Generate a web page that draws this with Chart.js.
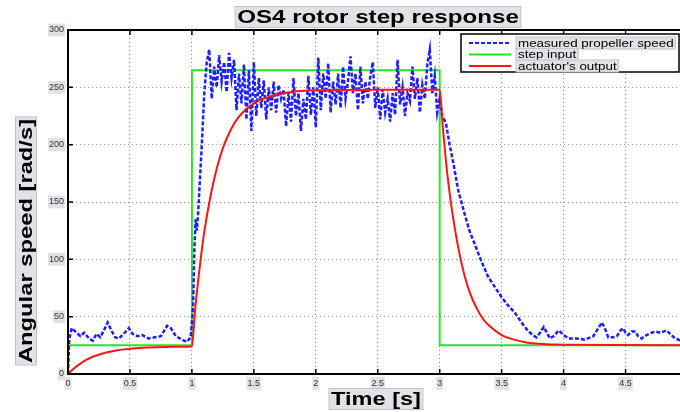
<!DOCTYPE html>
<html>
<head>
<meta charset="utf-8">
<script src="https://cdn.jsdelivr.net/npm/chart.js@4.4.0/dist/chart.umd.min.js"></script>
<style>
  html, body { margin: 0; padding: 0; background: #fff; overflow: hidden; }
  #wrap { width: 694px; height: 412px; }
</style>
</head>
<body>
<div id="wrap"><canvas id="chart" width="694" height="412"></canvas></div>
<script>
'use strict';

// step input (reference)
const stepT = [0, 1, 1, 3, 3, 5];
const stepV = [25, 25, 265, 265, 25, 25];

// actuator's output
const actT = [0, 0.05, 0.1, 0.15, 0.2, 0.3, 0.4, 0.5, 0.6, 0.7, 0.8, 0.9, 1.0,
  1.025, 1.05, 1.075, 1.1, 1.15, 1.2, 1.25, 1.3, 1.35, 1.4, 1.5, 1.6, 1.7, 1.8, 2.0, 2.5, 3.0,
  3.025, 3.05, 3.075, 3.1, 3.15, 3.2, 3.25, 3.3, 3.35, 3.4, 3.5, 3.6, 3.7, 3.8, 4.0, 5.0];
const actV = [0, 5, 9, 12.5, 15, 18.5, 20.8, 22, 22.8, 23.3, 23.6, 23.8, 24,
  55, 81, 104, 124, 155, 179, 197, 210, 220, 227, 236, 241, 244, 246, 247.4, 248, 248,
  215, 186, 162, 142, 110, 86, 69, 57, 48, 42, 34, 30, 27.5, 26.3, 25.4, 25];

// measured propeller speed
const measT = [0, 0.01, 0.03, 0.06, 0.1, 0.13, 0.17, 0.2, 0.23, 0.26, 0.29, 0.32, 0.35, 0.38,
  0.41, 0.45, 0.49, 0.52, 0.56, 0.6, 0.65, 0.7, 0.75, 0.8, 0.83, 0.87, 0.92, 0.96, 0.99,
  1.0, 1.01, 1.02, 1.03, 1.04, 1.05, 1.06, 1.08,
  1.10, 1.12, 1.14, 1.16, 1.18, 1.20, 1.22, 1.24, 1.26, 1.28, 1.30, 1.32, 1.34, 1.36, 1.38,
  1.40, 1.42, 1.44, 1.46, 1.48, 1.50, 1.52, 1.54, 1.56, 1.58, 1.60, 1.62, 1.64, 1.66, 1.68,
  1.70, 1.72, 1.74, 1.76, 1.78, 1.80, 1.82, 1.84, 1.86, 1.88, 1.90, 1.92, 1.94, 1.96, 1.98,
  2.00, 2.02, 2.04, 2.06, 2.08, 2.10, 2.12, 2.14, 2.16, 2.18, 2.20, 2.22, 2.24, 2.26, 2.28,
  2.30, 2.32, 2.34, 2.36, 2.38, 2.40, 2.42, 2.44, 2.46, 2.48, 2.50, 2.52, 2.54, 2.56, 2.58,
  2.60, 2.62, 2.64, 2.66, 2.68, 2.70, 2.72, 2.74, 2.76, 2.78, 2.80, 2.82, 2.84, 2.86, 2.88,
  2.90, 2.92, 2.94, 2.96, 2.98, 3.00, 3.02, 3.05,
  3.08, 3.11, 3.15, 3.2, 3.24, 3.28, 3.33, 3.39, 3.45, 3.5, 3.55, 3.61, 3.66, 3.71, 3.75,
  3.78, 3.81, 3.84, 3.87, 3.89, 3.92, 3.96, 4.0, 4.04, 4.1, 4.17, 4.24, 4.28, 4.31, 4.34,
  4.36, 4.4, 4.43, 4.46, 4.48, 4.5, 4.52, 4.55, 4.58, 4.6, 4.63, 4.67, 4.71, 4.74, 4.78,
  4.83, 4.87, 4.9, 4.95, 5.0];
const measV = [0, 30, 40, 37, 33, 36, 31, 29, 35, 32, 38, 45, 38, 32,
  31, 35, 40, 35, 33, 34, 31, 32, 33, 42, 40, 33, 30, 28, 32,
  45, 60, 110, 135, 125, 140, 160, 200,
  245, 272, 283, 240, 268, 250, 278, 255, 272, 246, 280, 258, 274, 230, 262,
  236, 270, 222, 265, 212, 272, 225, 258, 232, 256, 222, 250, 230, 255, 228,
  252, 240, 248, 216, 245, 220, 258, 225, 245, 212, 240, 222, 260, 226, 250,
  215, 276, 230, 262, 240, 271, 228, 255, 235, 262, 232, 268, 240, 255, 277,
  245, 262, 230, 268, 236, 255, 240, 260, 272, 232, 250, 222, 248, 228, 240,
  220, 245, 226, 274, 235, 250, 225, 245, 238, 268, 240, 258, 228, 252, 240,
  270, 283, 245, 260, 228, 240, 225, 219,
  200, 184, 160, 140, 125, 114, 100, 85, 75, 67, 60, 53, 45, 38, 34,
  32, 36, 41, 35, 31, 33, 38, 34, 31, 31, 30, 33, 40, 45, 38,
  32, 32, 33, 38, 40, 36, 34, 37, 37, 33, 31, 34, 36, 37, 36,
  38, 34, 31, 29, 28];

const xTicks = [0, 0.5, 1, 1.5, 2, 2.5, 3, 3.5, 4, 4.5, 5];
const yTicks = [0, 50, 100, 150, 200, 250, 300];

const pts = (ts, vs) => ts.map((t, i) => ({ x: t, y: vs[i] }));

const FONT = "'Liberation Sans', Arial, sans-serif";
const BOXFILL = '#e2e2e6';
const BOXLINE = '#c4c4c8';

// text on a grey box, stretched horizontally by sx
function boxedText(ctx, text, x, y, size, bold, sx, align) {
  ctx.font = (bold ? 'bold ' : '') + size + 'px ' + FONT;
  const w = ctx.measureText(text).width * sx;
  const left = align === 'left' ? x : x - w / 2;
  ctx.fillStyle = BOXFILL;
  ctx.fillRect(left - 2, y - size / 2 - 1, w + 4, size + 2);
  ctx.strokeStyle = BOXLINE;
  ctx.lineWidth = 1;
  ctx.strokeRect(left - 2, y - size / 2 - 1, w + 4, size + 2);
  ctx.save();
  ctx.translate(left, y + 1);
  ctx.scale(sx, 1);
  ctx.fillStyle = '#000';
  ctx.textBaseline = 'middle';
  ctx.textAlign = 'left';
  ctx.fillText(text, 0, 0);
  ctx.restore();
}

const decorPlugin = {
  id: 'decor',
  afterDraw(chart) {
    const { ctx, chartArea: a, scales } = chart;
    ctx.save();

    // frame + inward ticks
    ctx.strokeStyle = '#000';
    ctx.lineWidth = 2;
    ctx.strokeRect(a.left, a.top, a.right - a.left, a.bottom - a.top);
    ctx.lineWidth = 1.5;
    ctx.beginPath();
    xTicks.forEach(v => {
      const px = scales.x.getPixelForValue(v);
      ctx.moveTo(px, a.bottom); ctx.lineTo(px, a.bottom - 5);
      ctx.moveTo(px, a.top); ctx.lineTo(px, a.top + 5);
    });
    yTicks.forEach(v => {
      const py = scales.y.getPixelForValue(v);
      ctx.moveTo(a.left, py); ctx.lineTo(a.left + 5, py);
      ctx.moveTo(a.right, py); ctx.lineTo(a.right - 5, py);
    });
    ctx.stroke();

    // titles
    boxedText(ctx, 'OS4 rotor step response', 378, 17, 19, true, 1.27, 'center');
    boxedText(ctx, 'Time [s]', 376, 399, 19, true, 1.24, 'center');
    ctx.save();
    ctx.translate(26, 241);
    ctx.rotate(-Math.PI / 2);
    boxedText(ctx, 'Angular speed [rad/s]', 0, 0, 19, true, 1.25, 'center');
    ctx.restore();

    // legend
    const lx = 461, ly = 34, lw = 218, lh = 38;
    ctx.fillStyle = '#fff';
    ctx.fillRect(lx, ly, lw, lh);
    ctx.strokeStyle = '#000';
    ctx.lineWidth = 1.5;
    ctx.strokeRect(lx, ly, lw, lh);
    const ds = chart.data.datasets;
    const order = [1, 2, 0];
    order.forEach((di, k) => {
      const d = ds[di];
      const y = ly + 9 + k * 11.5;
      ctx.strokeStyle = d.borderColor;
      ctx.lineWidth = 2;
      ctx.setLineDash(d.borderDash || []);
      ctx.beginPath();
      ctx.moveTo(lx + 8, y); ctx.lineTo(lx + 50, y);
      ctx.stroke();
      ctx.setLineDash([]);
      boxedText(ctx, d.label, lx + 57, y, 10, false, 1.34, 'left');
    });
    ctx.restore();
  }
};

new Chart(document.getElementById('chart'), {
  type: 'line',
  data: {
    datasets: [
      { label: "actuator's output", data: pts(actT, actV),
        borderColor: '#ff1414', borderWidth: 2, pointRadius: 0, cubicInterpolationMode: 'monotone' },
      { label: 'measured propeller speed', data: pts(measT, measV),
        borderColor: '#1e1eff', borderWidth: 2.5, borderDash: [4, 2], pointRadius: 0, tension: 0 },
      { label: 'step input', data: pts(stepT, stepV),
        borderColor: '#26e626', borderWidth: 2, pointRadius: 0, tension: 0 }
    ]
  },
  options: {
    responsive: false,
    animation: false,
    layout: { padding: { top: 30, right: 0, left: 0, bottom: 0 } },
    plugins: { legend: { display: false }, tooltip: { enabled: false }, title: { display: false } },
    scales: {
      x: {
        type: 'linear', min: 0, max: 5,
        afterFit: s => { s.height = 38; },
        afterBuildTicks: s => { s.ticks = xTicks.map(v => ({ value: v })); },
        ticks: {
          padding: 4, color: '#333', font: { family: FONT, size: 9 },
          showLabelBackdrop: true, backdropColor: BOXFILL, backdropPadding: 1,
          maxRotation: 0, callback: v => String(v)
        },
        grid: { color: '#999', lineWidth: 1, drawTicks: false },
        border: { display: false, dash: [1, 3] }
      },
      y: {
        min: 0, max: 300,
        afterFit: s => { s.width = 68; },
        afterBuildTicks: s => { s.ticks = yTicks.map(v => ({ value: v })); },
        ticks: {
          padding: 4, color: '#333', font: { family: FONT, size: 9 },
          showLabelBackdrop: true, backdropColor: BOXFILL, backdropPadding: 1,
          callback: v => String(v)
        },
        grid: { color: '#999', lineWidth: 1, drawTicks: false },
        border: { display: false, dash: [1, 3] }
      }
    }
  },
  plugins: [decorPlugin]
});
</script>
</body>
</html>
